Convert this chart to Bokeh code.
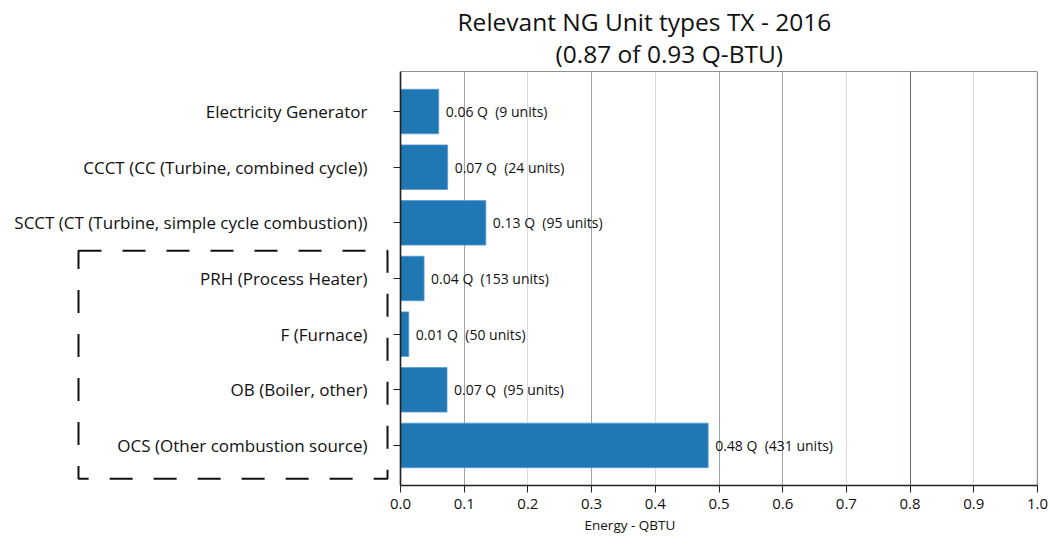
from bokeh.plotting import figure
from bokeh.models import FactorRange, Range1d, Title, BoxAnnotation, Grid, FixedTicker, ColumnDataSource
from bokeh.core.properties import value
from bokeh.embed import file_html
from bokeh.resources import INLINE

# ---- data (top to bottom as shown) ----
categories = [
    "Electricity Generator",
    "CCCT (CC (Turbine, combined cycle))",
    "SCCT (CT (Turbine, simple cycle combustion))",
    "PRH (Process Heater)",
    "F (Furnace)",
    "OB (Boiler, other)",
    "OCS (Other combustion source)",
]
energy_q = [0.060, 0.074, 0.134, 0.037, 0.013, 0.073, 0.483]
units = [9, 24, 95, 153, 50, 95, 431]
boxed = ["PRH (Process Heater)", "F (Furnace)", "OB (Boiler, other)", "OCS (Other combustion source)"]
x_ticks = [0.0, 0.1, 0.2, 0.3, 0.4, 0.5, 0.6, 0.7, 0.8, 0.9, 1.0]

FONT = "Open Sans"
NBSP = "\u00a0"

# ---- layout geometry (pixels) ----
AXIS_PX = 637          # pixel length of the 0..1 energy axis
LEFT_PAD = 2           # frame starts here; category labels live inside frame, left of x=0
LABEL_AREA = 398       # pixels between frame left and x=0

labels = [f"{v:.2f} Q{NBSP} ({n} units)" for v, n in zip(energy_q, units)]
src = ColumnDataSource(dict(cat=categories, val=energy_q, lab=labels))

yr = FactorRange(factors=list(reversed(categories)), range_padding=0.22, range_padding_units="absolute")
xr = Range1d(-LABEL_AREA / AXIS_PX, x_ticks[-1])

p = figure(
    y_range=yr, x_range=xr,
    frame_width=LABEL_AREA + AXIS_PX, frame_height=414,
    min_border_left=LEFT_PAD, min_border_right=11, min_border_top=71, min_border_bottom=10,
    output_backend="svg", toolbar_location=None, title=None,
)
p.background_fill_color = "white"
p.border_fill_color = "white"
p.outline_line_color = None

# grid
p.ygrid.grid_line_color = None
p.xgrid.grid_line_color = None
p.add_layout(Grid(dimension=0, ticker=FixedTicker(ticks=[0.1, 0.3, 0.5, 0.6]), grid_line_color="#9ea3ab", grid_line_width=1))
p.add_layout(Grid(dimension=0, ticker=FixedTicker(ticks=[0.8]), grid_line_color="#5f6876", grid_line_width=1))
p.add_layout(Grid(dimension=0, ticker=FixedTicker(ticks=[0.2, 0.4, 0.7, 0.9]), grid_line_color="#d9dde3", grid_line_width=1))

# outline of the data area (0..1)
p.add_layout(BoxAnnotation(left=x_ticks[0], right=x_ticks[-1], fill_color=None, fill_alpha=0,
                           line_color="#222222", line_alpha=1, line_width=1.2))

p.hbar(y="cat", right="val", left=0, height=0.8, source=src,
       fill_color="#1f77b4", line_color="#5b9bd5", line_width=0.8)

p.text(x="val", y="cat", text="lab", source=src, x_offset=7,
       text_baseline="middle", text_align="left",
       text_font=value(FONT), text_font_size="14px", text_color="#111111")

# axes
p.xaxis.ticker = FixedTicker(ticks=x_ticks)
p.xaxis.bounds = (x_ticks[0], x_ticks[-1])
p.xaxis.major_label_overrides = {t: f"{t:.1f}" for t in x_ticks}
p.xaxis.minor_tick_line_color = None
p.xaxis.major_tick_out = 7
p.xaxis.major_tick_in = 0
p.xaxis.major_label_standoff = 6
p.xaxis.major_label_text_font = FONT
p.xaxis.major_label_text_font_size = "15px"
p.xaxis.major_label_text_color = "#111111"
p.xaxis.axis_line_color = "#222222"
p.xaxis.axis_line_width = 1.5
p.xaxis.major_tick_line_color = "#222222"

p.yaxis.fixed_location = 0
p.yaxis.major_tick_out = 7
p.yaxis.major_tick_in = 0
p.yaxis.major_label_standoff = 26
p.yaxis.major_label_text_font = FONT
p.yaxis.major_label_text_font_size = "17px"
p.yaxis.major_label_text_color = "#111111"
p.yaxis.axis_line_color = "#222222"
p.yaxis.axis_line_width = 1.5
p.yaxis.major_tick_line_color = "#222222"

# x axis title (below)
p.add_layout(Title(text="Energy - QBTU", align="left", offset=582, text_font=FONT,
                   text_font_size="13.5px", text_font_style="normal", text_color="#111111", standoff=4), "below")

# titles (added inner first)
p.add_layout(Title(text="(0.87 of 0.93 Q-BTU)", align="left", offset=553, text_font=FONT,
                   text_font_size="24.5px", text_font_style="normal", text_color="#111111", standoff=3), "above")
p.add_layout(Title(text="Relevant NG Unit types TX - 2016", align="left", offset=455, text_font=FONT,
                   text_font_size="24.5px", text_font_style="normal", text_color="#111111", standoff=-8), "above")

# dashed box around the boxed categories (left/right in px from the frame's left edge)
n = len(categories)
top_idx = n - 1 - categories.index(boxed[0])      # synthetic centre = idx + 0.5
bot_idx = n - 1 - categories.index(boxed[-1])
box = BoxAnnotation(left=76, right=385, left_units="screen", right_units="screen",
                    top=top_idx + 1.0, bottom=bot_idx - 0.1,
                    fill_alpha=0, fill_color=None, line_color="#111111", line_alpha=1,
                    line_width=2, line_dash="23 21")
p.add_layout(box)

open("out.html", "w").write(file_html(p, INLINE))
